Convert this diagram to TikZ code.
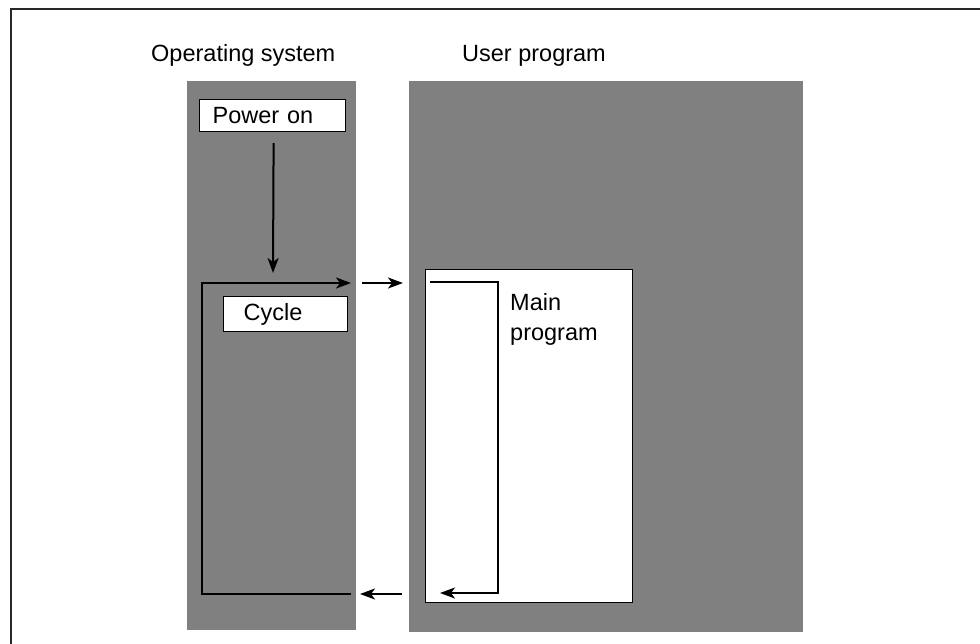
\documentclass[tikz,border=0pt]{standalone}
\usepackage{fontspec}
\setmainfont{Liberation Sans}
\usetikzlibrary{arrows.meta}
\definecolor{panelgray}{RGB}{128,128,128}
\definecolor{framegray}{RGB}{40,40,40}
\begin{document}
\begin{tikzpicture}[x=1pt,y=-1pt,
  every node/.style={font=\fontsize{23.5}{30}\selectfont},
  panel/.style={fill=panelgray,draw=none,anchor=north west,inner sep=0pt},
  wbox/.style={draw=black,fill=white,line width=1.2pt,anchor=north west,align=left,inner ysep=0pt},
  conn/.style={line width=2pt,draw=black},
  tip/.style={-{Stealth[length=15pt,width=11pt,inset=4pt]}}
]
\useasboundingbox (0,0) rectangle (980,644);
% outer frame (right and bottom cut off)
\draw[framegray,line width=2pt] (11,660) -- (11,9) -- (995,9);
% panels
\node[panel,minimum width=169pt,minimum height=549pt] (os) at (187,81) {};
\node[panel,minimum width=394pt,minimum height=551pt] (up) at (409,81) {};
\node[anchor=base west,inner sep=0pt] (ostitle) at (151,62) {Operating system};
\node[anchor=base west,inner sep=0pt] (uptitle) at (462,62) {User program};
% boxes
\node[wbox,minimum width=146pt,minimum height=32pt,inner xsep=13pt,text width=120pt] (power) at (199,99) {Power on};
\node[wbox,minimum width=124pt,minimum height=35pt,inner xsep=20pt,text width=84pt] (cycle) at (223,296) {Cycle};
\node[wbox,minimum width=207pt,minimum height=333pt] (main) at (425,269) {};
\node[anchor=north west,align=left,inner sep=0pt,font=\fontsize{23.5}{30}\selectfont] (maintxt) at (510,293) {Main\\program};
% coordinates
\coordinate (downend) at (273,273);
\coordinate (tl) at (202,283);
\coordinate (tr) at (351,283);
\coordinate (bl) at (202,594);
\coordinate (br) at (351,594);
\coordinate (m1) at (403,283);
\coordinate (m0) at (362,283);
\coordinate (n1) at (402,594);
\coordinate (n0) at (360,594);
\coordinate (i0) at (430,282);
\coordinate (i1) at (498,282);
\coordinate (i2) at (498,593);
\coordinate (i3) at (440,593);
% connectors
\draw[conn,tip] ([shift={(1,11)}]power.south) -- (downend);
\draw[conn,tip] (br) -- (bl) -- (tl) -- (tr);
\draw[conn,tip] (m0) -- (m1);
\draw[conn,tip] (n1) -- (n0);
\draw[conn,tip] (i0) -- (i1) -- (i2) -- (i3);
\end{tikzpicture}
\end{document}
